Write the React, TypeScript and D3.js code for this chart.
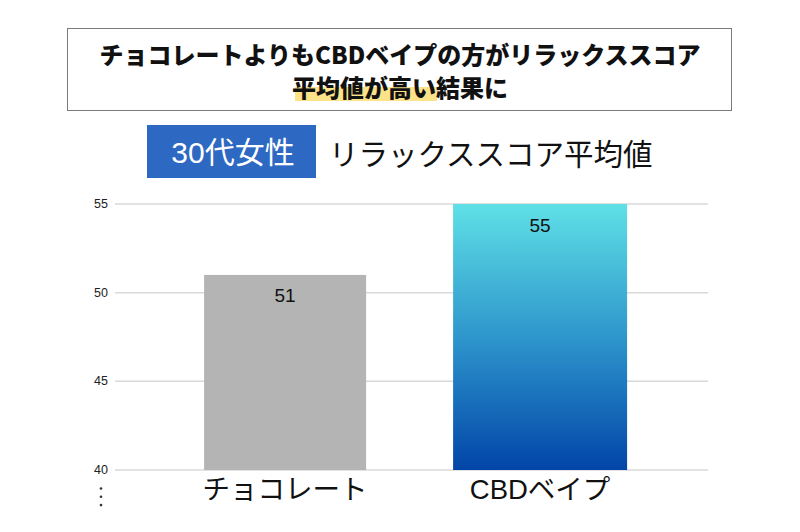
import React from "react";
import * as d3 from "d3";

const categories = ["チョコレート", "CBDベイプ"];
const values = [51, 55];
const yTicks = [40, 45, 50, 55];
const titleLine1 = "チョコレートよりもCBDベイプの方がリラックススコア";
const titleHighlight = "平均値が高い";
const titleRest = "結果に";
const badgeText = "30代女性";
const subtitleText = "リラックススコア平均値";

const W = 800;
const H = 532;
const JP = "'Noto Sans CJK JP', sans-serif";
const LATIN = "'Liberation Sans', Arial, 'Noto Sans CJK JP', sans-serif";

export default function App() {
  const y = d3.scaleLinear().domain([40, 55]).range([470, 204]);
  const x = d3
    .scaleBand<string>()
    .domain(categories)
    .range([157.6, 667.6])
    .paddingInner(0.34)
    .paddingOuter(0.17);
  const barWidths = [162, 174];
  const gridX0 = 115;
  const gridX1 = 708;

  return (
    <svg
      width={W}
      height={H}
      style={{ position: "absolute", left: 0, top: 0, background: "#fff" }}
    >
      <defs>
        <linearGradient id="cbdGrad" x1="0" y1="0" x2="0" y2="1">
          <stop offset="0%" stopColor="#5fe0e6" />
          <stop offset="50%" stopColor="#2e96cc" />
          <stop offset="100%" stopColor="#0245a8" />
        </linearGradient>
      </defs>
      <rect width={W} height={H} fill="#fff" />

      {/* Title box */}
      <rect x={67.5} y={28.5} width={664} height={82} fill="#fff" stroke="#7a7a7a" strokeWidth={1} />
      <text
        x={400}
        y={53}
        textAnchor="middle"
        dominantBaseline="central"
        fontFamily={JP}
        fontWeight={900}
        fontSize={24}
        fill="#111"
      >
        {titleLine1}
      </text>
      <rect x={295} y={87} width={142} height={14} fill="#fce38a" />
      <text
        x={400}
        y={86}
        textAnchor="middle"
        dominantBaseline="central"
        fontFamily={JP}
        fontWeight={900}
        fontSize={24}
        fill="#111"
      >
        <tspan>{titleHighlight}</tspan>
        <tspan>{titleRest}</tspan>
      </text>

      {/* Badge + subtitle */}
      <rect x={147} y={125} width={169} height={53} fill="#2d68c2" />
      <text
        x={233}
        y={152}
        textAnchor="middle"
        dominantBaseline="central"
        fontFamily={LATIN}
        fontSize={30}
        fill="#fff"
      >
        {badgeText}
      </text>
      <text
        x={329}
        y={152}
        textAnchor="start"
        dominantBaseline="central"
        fontFamily={JP}
        fontSize={29.5}
        fill="#111"
      >
        {subtitleText}
      </text>

      {/* Gridlines and y tick labels */}
      {yTicks.map((t) => (
        <g key={t}>
          <line x1={gridX0} x2={gridX1} y1={y(t)} y2={y(t)} stroke="#d9d9d9" strokeWidth={1.5} />
          <text
            x={108}
            y={y(t)}
            textAnchor="end"
            dominantBaseline="central"
            fontFamily={LATIN}
            fontSize={12.5}
            fill="#222"
          >
            {t}
          </text>
        </g>
      ))}

      {/* Axis-break dots */}
      {[0, 1, 2].map((i) => (
        <circle key={i} cx={101} cy={488.5 + i * 8.3} r={1.3} fill="#333" />
      ))}

      {/* Bars */}
      {categories.map((c, i) => {
        const cx = (x(c) as number) + x.bandwidth() / 2;
        const bw = barWidths[i];
        const top = y(values[i]);
        return (
          <g key={c}>
            <rect
              x={cx - bw / 2}
              y={top}
              width={bw}
              height={y(40) - top}
              fill={i === 0 ? "#b4b4b4" : "url(#cbdGrad)"}
            />
            <text
              x={cx}
              y={top + 21}
              textAnchor="middle"
              dominantBaseline="central"
              fontFamily={LATIN}
              fontSize={19}
              fill="#111"
            >
              {values[i]}
            </text>
            <text
              x={cx}
              y={489}
              textAnchor="middle"
              dominantBaseline="central"
              fontFamily={LATIN}
              fontSize={27.5}
              fill="#111"
            >
              {c}
            </text>
          </g>
        );
      })}
    </svg>
  );
}
